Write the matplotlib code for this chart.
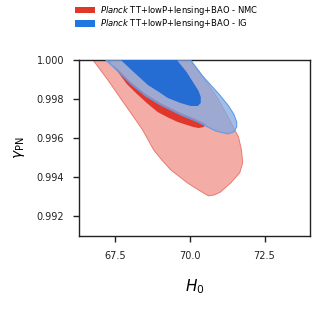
import matplotlib
matplotlib.use("Agg")
import matplotlib.pyplot as plt
from matplotlib.patches import Patch

# contour outlines (H0, gamma_PN)
nmc_outer_h0 = [66.40, 66.77, 67.27, 67.73, 68.20, 68.43, 68.80, 69.07, 69.37, 69.93,
                70.30, 70.63, 70.83, 71.03, 71.37, 71.67, 71.77, 71.73, 71.63, 71.47,
                71.30, 70.93, 70.47, 70.00, 69.63]
nmc_outer_g = [1.00077, 1.00000, 0.99897, 0.99795, 0.99692, 0.99641, 0.99538, 0.99487, 0.99436, 0.99369,
               0.99333, 0.99303, 0.99308, 0.99323, 0.99369, 0.99421, 0.99472, 0.99538, 0.99605, 0.99651,
               0.99703, 0.99805, 0.99908, 1.00000, 1.00077]

nmc_inner_h0 = [67.03, 67.30, 67.63, 67.90, 68.20, 68.57, 68.93, 69.30, 69.60, 69.90, 70.13,
                70.30, 70.47, 70.53, 70.20, 69.70, 69.03, 68.53, 68.03, 67.63, 67.17, 66.90]
nmc_inner_g = [1.00062, 1.00000, 0.99933, 0.99877, 0.99831, 0.99779, 0.99733, 0.99703, 0.99682, 0.99667, 0.99656,
               0.99651, 0.99656, 0.99672, 0.99697, 0.99728, 0.99779, 0.99826, 0.99887, 0.99949, 1.00010, 1.00062]

ig_outer_h0 = [66.63, 67.20, 67.63, 68.03, 68.53, 69.03, 69.70, 70.20, 70.53, 70.87, 71.27,
               71.47, 71.57, 71.57, 71.47, 71.30, 71.00, 70.70, 70.43, 70.03, 69.63]
ig_outer_g = [1.00077, 1.00000, 0.99938, 0.99877, 0.99815, 0.99769, 0.99718, 0.99687, 0.99662, 0.99636, 0.99621,
              0.99631, 0.99656, 0.99682, 0.99723, 0.99764, 0.99821, 0.99872, 0.99918, 1.00000, 1.00077]

ig_inner_h0 = [67.20, 67.70, 68.13, 68.60, 68.97, 69.27, 69.70, 70.03, 70.27, 70.37,
               70.37, 70.30, 70.13, 69.90, 69.57, 69.23]
ig_inner_g = [1.00062, 1.00000, 0.99938, 0.99872, 0.99836, 0.99805, 0.99779, 0.99764, 0.99764, 0.99779,
              0.99810, 0.99841, 0.99882, 0.99938, 1.00000, 1.00062]

labels = [r"$\mathit{Planck}$ TT+lowP+lensing+BAO - NMC",
          r"$\mathit{Planck}$ TT+lowP+lensing+BAO - IG"]
xticks = [67.5, 70.0, 72.5]
yticks = [0.992, 0.994, 0.996, 0.998, 1.000]

fig = plt.figure(figsize=(3.33, 3.12), dpi=100)
ax = fig.add_axes([0.237, 0.2436, 0.694, 0.5641])

ax.fill(nmc_outer_h0, nmc_outer_g, facecolor="#f3aca6", edgecolor="#ea7a70", lw=0.7, zorder=1)
ax.fill(nmc_inner_h0, nmc_inner_g, facecolor="#e1372a", edgecolor="none", zorder=2)
ax.fill(ig_outer_h0, ig_outer_g, facecolor="#81a8e2", alpha=0.74, edgecolor="none", zorder=3)
ax.fill(ig_outer_h0, ig_outer_g, facecolor="none", edgecolor="#5d9bea", lw=0.8, zorder=3)
ax.fill(ig_inner_h0, ig_inner_g, facecolor="#1f6ad4", edgecolor="none", alpha=0.95, zorder=4)

ax.set_xlim(66.3, 74.02)
ax.set_ylim(0.99097, 1.000)
ax.set_xticks(xticks)
ax.set_yticks(yticks)
ax.set_xticklabels(["%.1f" % t for t in xticks])
ax.set_yticklabels(["%.3f" % t for t in yticks])
ax.tick_params(direction="out", length=4.5, width=1.0, pad=6, labelsize=7, colors="#222222")
for s in ax.spines.values():
    s.set_linewidth(1.0)
    s.set_color("#222222")

ax.set_xlabel(r"$H_0$", fontsize=11, labelpad=12)
ax.set_ylabel(r"$\gamma_{\rm PN}$", fontsize=10, labelpad=7)

handles = [Patch(facecolor="#e1372a", edgecolor="none"),
           Patch(facecolor="#1f78e0", edgecolor="none")]
fig.legend(handles, labels, loc="upper left", bbox_to_anchor=(0.215, 1.0),
           frameon=False, fontsize=6, handlelength=2.4, handleheight=0.85,
           labelspacing=0.05, handletextpad=0.5, borderpad=0.25, borderaxespad=0.2)

fig.savefig("out.png", dpi=100)
